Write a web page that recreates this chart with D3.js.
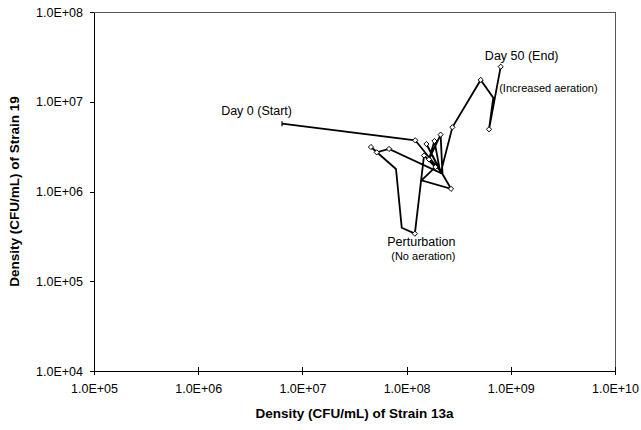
<!DOCTYPE html>
<html>
<head>
<meta charset="utf-8">
<script src="https://cdn.jsdelivr.net/npm/d3@7"></script>
<style>
  body { margin: 0; background: #fff; }
  svg { display: block; }
  text { font-family: Arial, "Liberation Sans", sans-serif; fill: #000; }
</style>
</head>
<body>
<svg id="chart" width="641" height="430"></svg>
<script>
// Daily densities (CFU/mL) of the two strains, day 0 to day 50
const strain13a = [6.37e6, 1.21e8, 2.16e8, 1.55e8, 2.09e8, 1.85e8, 1.64e8, 2.12e8, 2.21e8,
                   6.78e7, 5.17e7, 4.55e7, 7.91e7, 8.98e7, 1.20e8, 1.47e8, 1.89e8, 1.39e8,
                   2.67e8, 2.14e8, 2.75e8, 5.14e8, 6.79e8, 6.18e8, 8.00e8];
const strain19  = [5.69e6, 3.72e6, 1.63e6, 3.38e6, 1.71e6, 3.65e6, 2.28e6, 4.30e6, 1.57e6,
                   2.98e6, 2.73e6, 3.13e6, 1.78e6, 3.95e5, 3.39e5, 2.52e6, 1.87e6, 1.33e6,
                   1.07e6, 1.67e6, 5.19e6, 1.75e7, 1.11e7, 4.93e6, 2.46e7];
// 1 = sample drawn with a diamond marker
const marked    = [0, 1, 0, 1, 0, 1, 1, 1, 0,
                   1, 1, 1, 0, 0, 1, 1, 1, 0,
                   1, 0, 1, 1, 0, 1, 1];

const xTicks = [1e5, 1e6, 1e7, 1e8, 1e9, 1e10];
const yTicks = [1e4, 1e5, 1e6, 1e7, 1e8];
const xTitle = "Density (CFU/mL) of Strain 13a";
const yTitle = "Density (CFU/mL) of Strain 19";

const svg = d3.select("#chart");
const plot = { left: 94, right: 615, top: 12, bottom: 371 };

const x = d3.scaleLog().domain([1e5, 1e10]).range([plot.left, plot.right]);
const y = d3.scaleLog().domain([1e4, 1e8]).range([plot.bottom, plot.top]);
const fmt = v => v.toExponential(1).toUpperCase().replace(/E\+(\d)$/, "E+0$1");

// plot frame (top and right edges)
svg.append("path")
  .attr("d", `M${plot.left},${plot.top}H${plot.right}V${plot.bottom}`)
  .attr("fill", "none").attr("stroke", "#555").attr("stroke-width", 1)
  .attr("shape-rendering", "crispEdges");

// x axis
const xAxis = svg.append("g")
  .attr("transform", `translate(0,${plot.bottom})`)
  .call(d3.axisBottom(x).tickValues(xTicks).tickFormat(fmt).tickSizeInner(4).tickSizeOuter(0).tickPadding(9));
xAxis.selectAll(".tick line").attr("y1", -4).attr("stroke", "#000");
xAxis.select(".domain").attr("stroke", "#000");
xAxis.selectAll("text").attr("font-size", 12.5).attr("font-family", 'Arial, "Liberation Sans", sans-serif');

// y axis
const yAxis = svg.append("g")
  .attr("transform", `translate(${plot.left},0)`)
  .call(d3.axisLeft(y).tickValues(yTicks).tickFormat(fmt).tickSizeInner(4).tickSizeOuter(0).tickPadding(7));
yAxis.selectAll(".tick line").attr("stroke", "#000");
yAxis.select(".domain").attr("stroke", "#000");
yAxis.selectAll("text").attr("font-size", 12.5).attr("font-family", 'Arial, "Liberation Sans", sans-serif');
svg.selectAll(".domain, .tick line").attr("shape-rendering", "crispEdges");

// axis titles
svg.append("text")
  .attr("x", (plot.left + plot.right) / 2).attr("y", 418)
  .attr("text-anchor", "middle").attr("font-size", 13.5).attr("font-weight", "bold")
  .text(xTitle);
svg.append("text")
  .attr("transform", `translate(19,${(plot.top + plot.bottom) / 2}) rotate(-90)`)
  .attr("text-anchor", "middle").attr("font-size", 13.5).attr("font-weight", "bold")
  .text(yTitle);

// trajectory
const pts = strain13a.map((v, i) => ({ x: v, y: strain19[i], m: marked[i] }));
svg.append("path")
  .datum(pts)
  .attr("fill", "none").attr("stroke", "#000").attr("stroke-width", 1.8)
  .attr("stroke-linejoin", "miter")
  .attr("d", d3.line().x(d => x(d.x)).y(d => y(d.y)));

// start marker
svg.append("line")
  .attr("x1", x(pts[0].x)).attr("x2", x(pts[0].x))
  .attr("y1", y(pts[0].y) - 2.5).attr("y2", y(pts[0].y) + 2.5)
  .attr("stroke", "#000").attr("stroke-width", 1.2);

// diamond markers
svg.append("g").selectAll("path")
  .data(pts.filter((d, i) => i > 0 && d.m))
  .join("path")
  .attr("d", d => {
    const cx = x(d.x), cy = y(d.y), r = 2.6;
    return `M${cx},${cy - r}L${cx + r},${cy}L${cx},${cy + r}L${cx - r},${cy}Z`;
  })
  .attr("fill", "#fff").attr("stroke", "#000").attr("stroke-width", 1);

// annotations, placed relative to their samples
const first = pts[0], last = pts[pts.length - 1];
const low = pts[d3.minIndex(pts, d => d.y)];
svg.append("text").attr("x", x(first.x) + 10).attr("y", y(first.y) - 9)
  .attr("text-anchor", "end").attr("font-size", 12.5).text("Day 0 (Start)");
svg.append("text").attr("x", x(last.x) + 21).attr("y", y(last.y) - 7)
  .attr("text-anchor", "middle").attr("font-size", 12.5).text("Day 50 (End)");
svg.append("text").attr("x", x(last.x) - 1.5).attr("y", y(last.y) + 25.5)
  .attr("text-anchor", "start").attr("font-size", 11).text("(Increased aeration)");
svg.append("text").attr("x", x(low.x) + 6.5).attr("y", y(low.y) + 12.5)
  .attr("text-anchor", "middle").attr("font-size", 12.5).text("Perturbation");
svg.append("text").attr("x", x(low.x) + 8.5).attr("y", y(low.y) + 26)
  .attr("text-anchor", "middle").attr("font-size", 11).text("(No aeration)");
</script>
</body>
</html>
